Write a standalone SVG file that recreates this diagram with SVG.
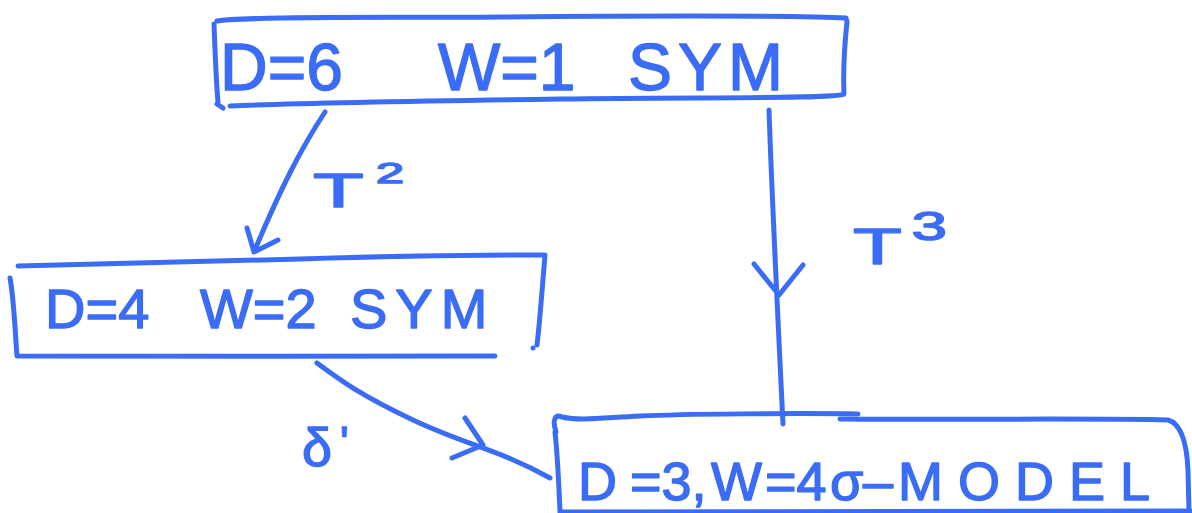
<svg xmlns="http://www.w3.org/2000/svg" width="1192" height="513" viewBox="0 0 1192 513">
  <style>
    .ink { fill: none; stroke: #3b6cf6; stroke-width: 5; stroke-linecap: round; stroke-linejoin: round; }
    .lbl { fill: #3b6cf6; stroke: #3b6cf6; stroke-width: 1.4; stroke-linejoin: round; font-family: "Liberation Sans", Arial, sans-serif; }
  </style>
  <rect width="1192" height="513" fill="#ffffff"/>

  <g id="node-d6">
    <path class="ink" d="M 217,21 C 240,16 400,18 500,17 S 800,15 846,18 L 847,22 C 844,50 843,70 844,94 C 838,99 700,97 560,99 S 300,103 230,106"/>
    <path class="ink" d="M 214,24 C 215,50 216,80 218,102 M 217,104 L 223,108"/>
    <text class="lbl" y="90" font-size="66"><tspan x="220">D=6</tspan><tspan x="438">W=1</tspan><tspan x="628" letter-spacing="6">SYM</tspan></text>
  </g>

  <g id="node-d4">
    <path class="ink" d="M 18,266 C 100,264 200,262 300,259 S 480,255 545,255 C 542,290 540,320 537,345 M 533,348 L 533,348"/>
    <path class="ink" d="M 10,278 C 14,300 15,330 17,356 C 150,357 350,356 495,356"/>
    <text class="lbl" y="328" font-size="56"><tspan x="45">D=4</tspan><tspan x="200">W=2</tspan><tspan x="350" letter-spacing="8">SYM</tspan></text>
  </g>

  <g id="node-d3">
    <path class="ink" d="M 556,432 C 552,420 555,414 562,417 C 580,421 600,418 640,416 S 800,413 858,414"/>
    <path class="ink" d="M 840,419 C 950,420 1100,418 1168,420 Q 1186,425 1188,470 L 1189,512"/>
    <path class="ink" d="M 555,432 C 558,460 559,490 560,512 M 560,512 L 1190,511"/>
    <text class="lbl" y="500" font-size="54"><tspan x="578">D</tspan><tspan x="630">=3,</tspan><tspan x="711">W</tspan><tspan x="765">=4</tspan><tspan x="830">σ</tspan><tspan x="863">–</tspan><tspan x="898" letter-spacing="15">MODEL</tspan></text>
  </g>

  <g id="connectors">
    <path class="ink" d="M 325,112 C 300,150 280,190 254,252 M 247,228 L 254,252 L 278,240"/>
    <path class="ink" d="M 769,110 C 772,200 777,300 783,424 M 754,264 L 779,295 L 803,265"/>
    <path class="ink" d="M 317,363 C 340,380 360,395 413,420 S 500,450 550,478 M 465,418 L 483,445 L 452,458"/>
  </g>

  <g id="edge-labels">
    <text class="lbl" transform="translate(313,207) scale(1.7,1)" font-size="49">T<tspan dx="7" dy="-24" font-size="30">2</tspan></text>
    <text class="lbl" transform="translate(853,264) scale(1.6,1)" font-size="50">T<tspan dx="6" dy="-24" font-size="40">3</tspan></text>
    <text class="lbl" x="302" y="466" font-size="54">δ<tspan dx="8" dy="-8" font-size="44">'</tspan></text>
  </g>
</svg>
